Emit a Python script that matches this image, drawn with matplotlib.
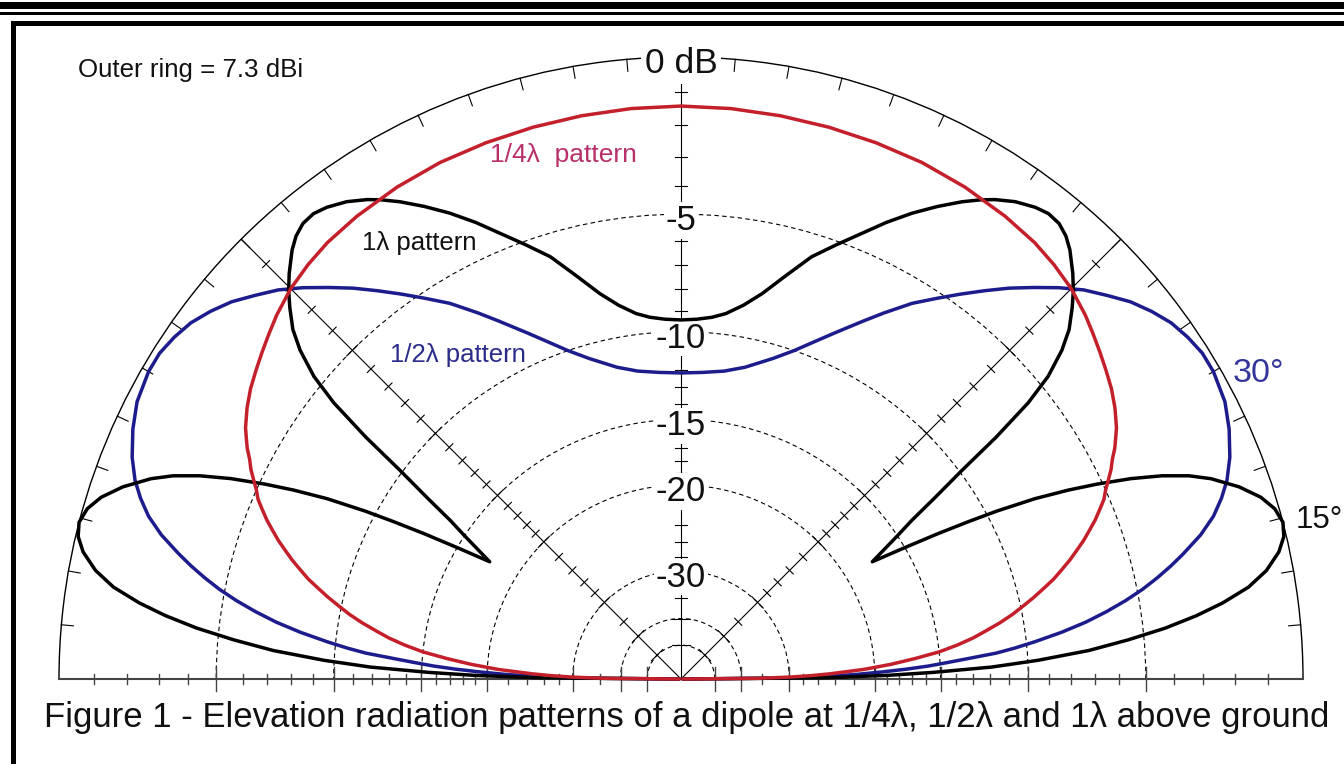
import numpy as np
import matplotlib
matplotlib.use("Agg")
import matplotlib.pyplot as plt
from matplotlib.patches import Rectangle
from matplotlib import transforms

plt.rcParams['font.family'] = ['Liberation Sans', 'DejaVu Sans']

# elevation angle (deg, 0..90) and relative gain (dB), mirrored for the other half
el_quarter = [0, 0.5, 1, 1.5, 2, 3, 4, 5, 6, 7, 8, 9, 10, 11, 12, 13, 14, 15, 16, 17, 18, 19,
              20, 21, 22, 23, 24, 25, 26, 27, 28, 29, 30, 32, 34, 36, 38, 40, 42, 45, 48, 51,
              55, 60, 65, 70, 75, 80, 85, 90]
db_quarter = [-100, -36, -30, -26.8, -24.5, -21, -18.6, -16.7, -15.0, -13.8, -12.8, -12.0, -11.2,
              -10.5, -9.9, -9.3, -8.75, -8.2, -7.75, -7.3, -6.9, -6.5, -6.15, -5.8, -5.5, -5.2,
              -5.0, -4.75, -4.5, -4.3, -4.05, -3.85, -3.65, -3.35, -3.1, -2.9, -2.7, -2.5, -2.3,
              -2.05, -1.88, -1.75, -1.65, -1.56, -1.5, -1.48, -1.46, -1.44, -1.42, -1.41]

el_half = [0, 0.5, 1, 1.5, 2, 2.5, 3, 3.5, 4, 4.7, 5.3, 6, 7, 8, 9, 10, 11, 12, 13, 14, 15.5,
           17, 18.5, 20, 22, 24.5, 27, 30, 32, 34, 36, 38, 40, 42, 44, 46, 48, 50, 52, 54, 56,
           58.4, 61, 63, 66, 68.7, 71, 74, 78.4, 82, 86, 90]
db_half = [-100, -31, -25.2, -21.7, -19.4, -17.4, -15.8, -14.6, -13.4, -11.6, -10.6, -9.6, -8.3,
           -7.2, -6.3, -5.5, -4.8, -4.2, -3.65, -3.15, -2.45, -1.9, -1.5, -1.17, -0.85, -0.55,
           -0.32, -0.2, -0.2, -0.3, -0.45, -0.7, -1.0, -1.4, -1.8, -2.3, -2.85, -3.4, -4.0,
           -4.6, -5.2, -5.9, -6.8, -7.5, -8.5, -9.34, -10.0, -10.7, -11.5, -11.9, -12.1, -12.17]

el_one = [0, 0.5, 1, 1.5, 2.2, 3, 4, 5, 6, 7, 8, 9.2, 10.5, 12, 13.3, 14.6, 16, 17.4, 19, 20.7,
          21.8, 22.9, 24, 25.1, 26, 27, 28, 28.7, 29.5, 30.5, 31.5, 32.5, 33.5, 34.5, 35.5, 36.6,
          37.5, 38.5, 39.5, 40.8, 42, 43.5, 44.7, 46, 47.8, 49, 50.3, 51.7, 53.1, 55, 56.8, 58,
          59.5, 61.5, 63.6, 65.8, 67.9, 70.3, 72.8, 75.5, 78.1, 80.5, 83, 85.1, 87.5, 90]
db_one = [-100, -25, -19, -15.5, -11.9, -9.5, -7.2, -5.6, -4.2, -3.1, -2.2, -1.35, -0.75, -0.3,
          -0.07, 0.0, -0.12, -0.4, -0.9, -1.6, -2.2, -3.0, -4.0, -5.2, -6.3, -7.7, -9.5, -11.0,
          -12.8, -15.2, -17.5, -16.3, -15.0, -13.7, -11.9, -9.86, -7.7, -5.8, -4.6, -3.64, -3.0,
          -2.45, -2.05, -1.68, -1.23, -1.0, -0.85, -0.82, -0.91, -1.12, -1.41, -1.65, -1.99, -2.5,
          -3.07, -3.73, -4.41, -5.13, -5.86, -6.9, -7.84, -8.5, -9.0, -9.24, -9.38, -9.43]

ring_db = [-5, -10, -15, -20, -30, -40, -50]
ring_labels = ['-5', '-10', '-15', '-20', '-30']
tick_db = list(range(-1, -21, -1)) + [-22, -24, -26, -28, -30, -35, -40, -50]

K = 0.89  # ARRL log scale: 2 dB per 0.89 radius step


def fwd(d):
    return np.power(K, -np.asarray(d, dtype=float) / 2)


def inv(r):
    with np.errstate(divide='ignore', invalid='ignore'):
        return -2 * np.log(np.asarray(r, dtype=float)) / np.log(K)


def full(el, db):
    el = np.asarray(el, dtype=float)
    db = np.asarray(db, dtype=float)
    th = np.concatenate([el, 180 - el[::-1]])
    return np.deg2rad(th), np.concatenate([db, db[::-1]])


W, H = 1344, 764
cx, cy, R = 681, 679, 622


def fx(x):
    return x / W


def fy(y):
    return 1 - y / H


fig = plt.figure(figsize=(W / 100, H / 100), dpi=100)
fig.patch.set_facecolor('white')

side = 2 * R
ax = fig.add_axes([(cx - R) / W, (H - cy - 0.25 * side) / H, side / W, side / H], projection='polar')
ax.set_rscale('function', functions=(fwd, inv))
ax.set_thetamin(0)
ax.set_thetamax(180)
ax.set_rlim(-200, 0)

ax.set_rgrids(ring_db, labels=[''] * len(ring_db))
ax.set_thetagrids([45, 135], labels=['', ''])
ax.yaxis.grid(True, color='k', lw=0.8, ls=(0, (4, 3)))
ax.xaxis.grid(True, color='k', lw=0.8, ls='-')
ax.tick_params(length=0)
ax.spines['polar'].set_linewidth(1.0)
ax.spines['start'].set_color('#444444')
ax.spines['end'].set_color('#444444')
ax.spines['start'].set_linewidth(1.5)
ax.spines['end'].set_linewidth(1.5)
ax.spines['inner'].set_visible(False)


def radial_tick(phi_deg, d, half):
    r = fwd(d)
    phi = np.deg2rad(phi_deg)
    s = np.array([-1.0, 1.0]) * half
    px = r * np.cos(phi) - s * np.sin(phi)
    py = r * np.sin(phi) + s * np.cos(phi)
    return np.arctan2(py, px), inv(np.hypot(px, py))


tick_kw = dict(color='k', lw=0.8, clip_on=False, zorder=2)
# vertical axis
ax.plot([np.pi / 2, np.pi / 2], [-200, inv(597 / R)], **tick_kw)
for d in tick_db:
    big = d in ring_db
    for phi, h in [(90, 9 if big else 6), (45, 8 if big else 5), (135, 8 if big else 5)]:
        t, r = radial_tick(phi, d, h / R)
        ax.plot(t, r, **tick_kw)
    for phi in (0, 180):
        t, r = radial_tick(phi, d, (12 if big else 5) / R)
        ax.plot(t, r, color='#444444', lw=1.0, clip_on=False, zorder=2)

# outer ring ticks every 5 deg
for a in range(5, 180, 5):
    ax.plot([np.deg2rad(a)] * 2, [0, inv(1 - 12 / R)], **tick_kw)

curve_kw = dict(lw=2.5, clip_on=False, solid_joinstyle='round', solid_capstyle='round')
t, r = full(el_half, db_half)
ax.plot(t, r, color='#1c1c8c', zorder=4, **curve_kw)
t, r = full(el_one, db_one)
ax.plot(t, r, color='black', zorder=5, **curve_kw)
t, r = full(el_quarter, db_quarter)
ax.plot(t, r, color='#c4202c', zorder=6, **curve_kw)

off = transforms.offset_copy(ax.transData, fig=fig, x=0, y=-3, units='dots')
for d, lab in zip(ring_db, ring_labels):
    ax.text(np.pi / 2, d, lab, transform=off, ha='center', va='center_baseline', fontsize=25,
            color='#111111', zorder=3,
            bbox=dict(boxstyle='square,pad=0.05', fc='white', ec='none'))

fig.text(fx(cx), fy(73), '0 dB', ha='center', va='baseline', fontsize=25.5, color='#111111',
         bbox=dict(boxstyle='square,pad=0.1', fc='white', ec='none'))
fig.text(fx(78), fy(77), 'Outer ring = 7.3 dBi', ha='left', va='baseline', fontsize=18.6,
         color='#111111')
fig.text(fx(490), fy(162), '1/4\u03bb  pattern', ha='left', va='baseline', fontsize=19,
         color='#b8306a')
fig.text(fx(362), fy(250), '1\u03bb pattern', ha='left', va='baseline', fontsize=18.5,
         color='#111111')
fig.text(fx(390), fy(362), '1/2\u03bb pattern', ha='left', va='baseline', fontsize=18.5,
         color='#2b2b8a')
fig.text(fx(1233), fy(382), '30\u00b0', ha='left', va='baseline', fontsize=24.5, color='#34349a')
fig.text(fx(1296), fy(528), '15\u00b0', ha='left', va='baseline', fontsize=22.5, color='#111111')
fig.text(fx(687), fy(727),
         'Figure 1 - Elevation radiation patterns of a dipole at 1/4\u03bb, 1/2\u03bb and 1\u03bb above ground',
         ha='center', va='baseline', fontsize=25, color='#111111')

# page frame
def band(x0, y0, x1, y1):
    fig.patches.append(Rectangle((fx(x0), fy(y1)), fx(x1) - fx(x0), fy(y0) - fy(y1),
                                 transform=fig.transFigure, fc='black', ec='none', zorder=10))


band(0, 2, W, 9)
band(0, 12, W, 14.5)
band(11, 21, W, 25.5)
band(11, 21, 15.5, H)

fig.savefig('out.png', dpi=100, facecolor='white')
